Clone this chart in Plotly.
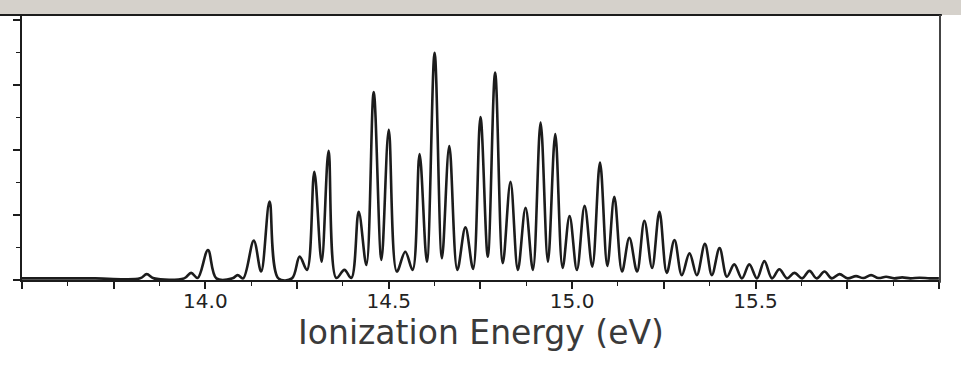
import plotly.graph_objects as go

# Photoelectron spectrum (energy in eV, intensity in arbitrary units)
energy_ev = [
    13.500, 13.700, 13.822, 13.840, 13.860, 13.942, 13.961, 13.979, 14.007, 14.030,
    14.074, 14.088, 14.103, 14.132, 14.152, 14.175, 14.199, 14.236, 14.257, 14.277,
    14.297, 14.317, 14.336, 14.357, 14.379, 14.398, 14.418, 14.439, 14.459, 14.480,
    14.500, 14.522, 14.545, 14.565, 14.584, 14.604, 14.625, 14.645, 14.665, 14.687,
    14.709, 14.730, 14.750, 14.770, 14.790, 14.811, 14.832, 14.852, 14.873, 14.893,
    14.914, 14.934, 14.954, 14.974, 14.993, 15.013, 15.034, 15.055, 15.076, 15.096,
    15.115, 15.136, 15.156, 15.177, 15.197, 15.218, 15.238, 15.258, 15.279, 15.299,
    15.320, 15.340, 15.362, 15.381, 15.402, 15.422, 15.442, 15.463, 15.483, 15.504,
    15.524, 15.545, 15.565, 15.586, 15.606, 15.627, 15.647, 15.667, 15.688, 15.708,
    15.729, 15.751, 15.774, 15.794, 15.815, 15.835, 15.856, 15.878, 15.900, 15.922,
    15.947, 15.975, 16.000,
]
intensity = [
    0.05, 0.05, 0.05, 0.18, 0.05, 0.05, 0.22, 0.06, 0.92, 0.05,
    0.05, 0.15, 0.05, 1.21, 0.26, 2.41, 0.05, 0.05, 0.72, 0.31,
    3.33, 0.56, 3.97, 0.06, 0.31, 0.06, 2.10, 0.46, 5.78, 0.62,
    4.62, 0.26, 0.87, 0.31, 3.87, 0.56, 6.99, 0.67, 4.12, 0.31,
    1.62, 0.34, 5.01, 0.72, 6.38, 0.52, 3.02, 0.31, 2.22, 0.31,
    4.84, 0.56, 4.49, 0.37, 1.97, 0.31, 2.28, 0.41, 3.61, 0.43,
    2.56, 0.26, 1.30, 0.26, 1.82, 0.37, 2.10, 0.22, 1.23, 0.15,
    0.82, 0.15, 1.11, 0.15, 0.98, 0.10, 0.48, 0.05, 0.48, 0.05,
    0.58, 0.05, 0.33, 0.05, 0.22, 0.05, 0.28, 0.05, 0.26, 0.05,
    0.18, 0.05, 0.12, 0.06, 0.15, 0.06, 0.10, 0.05, 0.08, 0.05,
    0.07, 0.05, 0.05,
]

x_tick_values = [13.5, 13.75, 14.0, 14.25, 14.5, 14.75, 15.0, 15.25, 15.5, 15.75, 16.0]
x_tick_labels = ["", "", "14.0", "", "14.5", "", "15.0", "", "15.5", "", ""]
y_tick_values = [0, 2, 4, 6, 8]
x_title = "Ionization Energy (eV)"

INK = "#1c1c1c"

fig = go.Figure()
fig.add_trace(go.Scatter(
    x=energy_ev, y=intensity, mode="lines",
    line=dict(color=INK, width=2.6, shape="spline", smoothing=1.0),
    hoverinfo="skip", showlegend=False,
))

fig.update_layout(
    width=961, height=375,
    margin=dict(l=22, r=21, t=15, b=95),
    paper_bgcolor="white", plot_bgcolor="white",
    showlegend=False,
    xaxis=dict(
        range=[13.5, 16.003], showgrid=False, zeroline=False,
        showline=True, linecolor=INK, linewidth=2,
        tickmode="array", tickvals=x_tick_values, ticktext=x_tick_labels,
        ticks="outside", ticklen=7, tickwidth=1.5, tickcolor=INK,
        ticklabelstandoff=-5,
        minor=dict(dtick=0.125, tick0=13.5, ticks="outside", ticklen=4,
                   tickwidth=1.2, tickcolor=INK),
        tickfont=dict(family="DejaVu Sans, sans-serif", size=20, color="#222222"),
        title=dict(text=x_title, standoff=3,
                   font=dict(family="DejaVu Sans, sans-serif", size=33, color="#3a3a3a")),
    ),
    yaxis=dict(
        range=[0, 8.15], showgrid=False, zeroline=False,
        showline=True, linecolor=INK, linewidth=2,
        tickmode="array", tickvals=y_tick_values, showticklabels=False,
        ticks="outside", ticklen=7, tickwidth=1.5, tickcolor=INK,
        minor=dict(dtick=1, tick0=0, ticks="outside", ticklen=4,
                   tickwidth=1.2, tickcolor=INK),
    ),
    shapes=[
        # grey band above the scanned figure
        dict(type="rect", xref="paper", yref="paper", x0=-0.05, x1=1.05,
             y0=1.0, y1=1.1, fillcolor="#d5d1cb", line=dict(width=0), layer="below"),
        # top frame line
        dict(type="line", xref="paper", yref="paper", x0=-0.024, x1=1.002,
             y0=1.0, y1=1.0, line=dict(color=INK, width=2)),
        # right frame line
        dict(type="line", xref="paper", yref="paper", x0=1.0, x1=1.0,
             y0=-0.01, y1=1.0, line=dict(color="#444444", width=2)),
    ],
)

fig.write_html("out.html", config={"displayModeBar": False},
               post_script="document.body.style.margin='0';")
